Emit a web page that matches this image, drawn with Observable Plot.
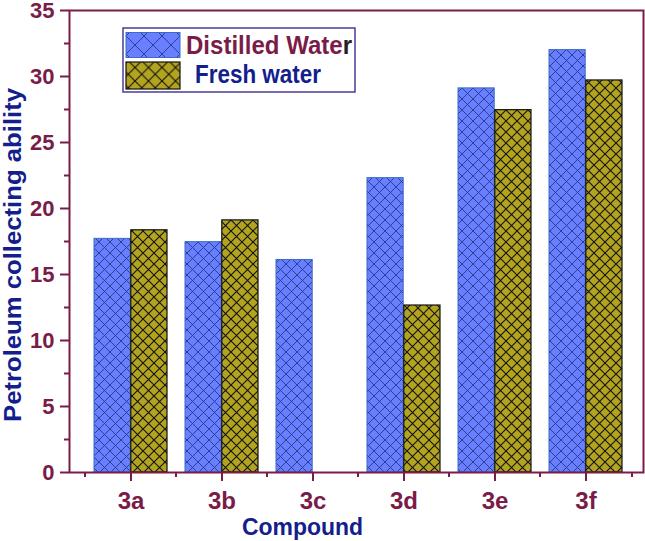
<!DOCTYPE html>
<html><head><meta charset="utf-8">
<script src="https://cdn.jsdelivr.net/npm/d3@7"></script>
<script src="https://cdn.jsdelivr.net/npm/@observablehq/plot@0.6"></script>
<style>body{margin:0;background:#fff}</style>
</head><body><div id="chart"></div>
<script>
const compounds = ["3a", "3b", "3c", "3d", "3e", "3f"];
const distilledWater = [17.7, 17.45, 16.1, 22.3, 29.1, 32.0];
const freshWater = [18.35, 19.1, 0, 12.65, 27.45, 29.7];
const yTicks = [0, 5, 10, 15, 20, 25, 30, 35];
const yMinorTicks = [2.5, 7.5, 12.5, 17.5, 22.5, 27.5, 32.5];
const seriesNames = ["Distilled Water", "Fresh water"];
const xTitle = "Compound";
const yTitle = "Petroleum collecting ability";

const rows = compounds.map((c, i) => ({compound: c, dw: distilledWater[i], fw: freshWater[i]}));

const W = 645, H = 541, mL = 69, mR = 2, mT = 10, mB = 69;
const band = d3.scaleBand().domain(compounds).range([mL, W - mR])
  .paddingInner(0.2).paddingOuter(0.22).align(0.54);
const bw = band.bandwidth(), step = band.step();
const maroon = "#7a1c48", navy = "#13208c";
const font = "'Liberation Sans', Arial, sans-serif";

const svg = Plot.plot({
  width: W, height: H, marginLeft: mL, marginRight: mR, marginTop: mT, marginBottom: mB,
  style: {fontFamily: font, background: "white", overflow: "visible"},
  x: {type: "band", domain: compounds, paddingInner: 0.2, paddingOuter: 0.22, align: 0.54},
  y: {domain: [0, 35]},
  marks: [
    Plot.barY(rows, {x: "compound", y: "dw", insetRight: bw / 2, fill: "url(#hatchBlue)", stroke: "#3a6cc2", strokeWidth: 1}),
    Plot.barY(rows.filter(d => d.fw > 0), {x: "compound", y: "fw", insetLeft: bw / 2, fill: "url(#hatchOlive)", stroke: "#111", strokeWidth: 1.2}),
    Plot.frame({stroke: maroon, strokeWidth: 2}),
    Plot.axisY({ticks: yTicks, tickSize: 9, tickPadding: 6, color: maroon, strokeWidth: 2, fontSize: 22, fontWeight: "bold", label: null}),
    Plot.axisY({ticks: yMinorTicks, tickSize: 5, tickFormat: () => "", color: maroon, strokeWidth: 2, label: null}),
    Plot.axisX({tickSize: 9, tickPadding: 10, color: maroon, strokeWidth: 2, fontSize: 24, fontWeight: "bold", label: null}),
    Plot.axisX({tickSize: 5, tickFormat: () => "", dx: -step / 2, color: maroon, strokeWidth: 2, label: null}),
    Plot.axisX({ticks: [compounds[compounds.length - 1]], tickSize: 5, tickFormat: () => "", dx: step / 2, color: maroon, strokeWidth: 2, label: null})
  ]
});

const s = d3.select(svg);
const defs = s.insert("defs", ":first-child");
function hatch(id, size, bg, line, lw) {
  const p = defs.append("pattern").attr("id", id).attr("patternUnits", "userSpaceOnUse")
    .attr("width", size).attr("height", size);
  p.append("rect").attr("width", size).attr("height", size).attr("fill", bg);
  p.append("path").attr("d", `M0,0L${size},${size}M${size},0L0,${size}`)
    .attr("stroke", line).attr("stroke-width", lw).attr("fill", "none");
}
hatch("hatchBlue", 11, "#6a7fff", "#1f3a8a", 0.9);
hatch("hatchOlive", 11, "#b2a41e", "#111", 1.1);
hatch("legBlue", 18, "#6a7fff", "#1f3a8a", 0.9);
hatch("legOlive", 13.5, "#b2a41e", "#111", 1.1);

// legend
const lg = s.append("g").attr("text-anchor", "start");
lg.append("rect").attr("x", 123).attr("y", 28).attr("width", 232).attr("height", 64)
  .attr("fill", "white").attr("stroke", "#4a3c96").attr("stroke-width", 1.5);
lg.append("rect").attr("x", 126).attr("y", 32.5).attr("width", 54).attr("height", 25)
  .attr("fill", "url(#legBlue)").attr("stroke", "#3a6cc2").attr("stroke-width", 1);
lg.append("rect").attr("x", 126).attr("y", 62).attr("width", 54).attr("height", 27)
  .attr("fill", "url(#legOlive)").attr("stroke", "#111").attr("stroke-width", 1.2);
const t1 = lg.append("text").attr("x", 186).attr("y", 53.5).attr("text-anchor", "start").attr("font-family", font)
  .attr("font-size", 25).attr("font-weight", "bold").attr("fill", maroon)
  .attr("textLength", 166).attr("lengthAdjust", "spacingAndGlyphs");
t1.append("tspan").text(seriesNames[0].slice(0, -1));
t1.append("tspan").attr("fill", "#222").text(seriesNames[0].slice(-1));
lg.append("text").attr("x", 195).attr("y", 83.3).attr("text-anchor", "start").attr("font-family", font)
  .attr("font-size", 25).attr("font-weight", "bold").attr("fill", navy)
  .attr("textLength", 126).attr("lengthAdjust", "spacingAndGlyphs").text(seriesNames[1]);

// axis titles
s.append("text").attr("transform", "translate(21,255) rotate(-90)").attr("text-anchor", "middle")
  .attr("font-family", font).attr("font-size", 24).attr("font-weight", "bold").attr("fill", navy)
  .attr("textLength", 334).attr("lengthAdjust", "spacingAndGlyphs").text(yTitle);
s.append("text").attr("x", 302.5).attr("y", 535).attr("text-anchor", "middle")
  .attr("font-family", font).attr("font-size", 23).attr("font-weight", "bold").attr("fill", navy)
  .attr("textLength", 121).attr("lengthAdjust", "spacingAndGlyphs").text(xTitle);

document.getElementById("chart").appendChild(svg);
</script>
</body></html>
